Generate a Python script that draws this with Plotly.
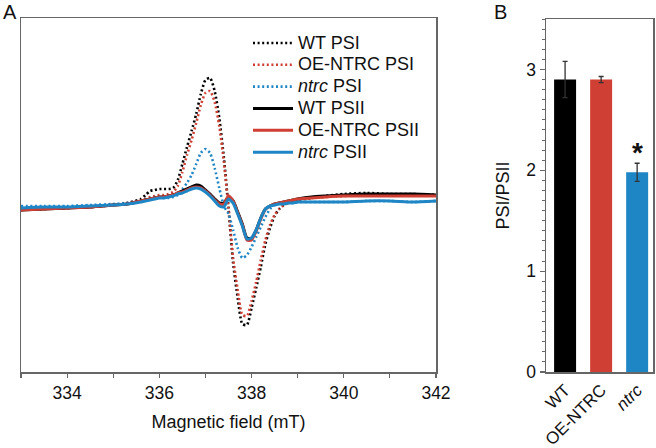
import plotly.graph_objects as go

# ---------------- Panel A data (magnetic field, mT; signal, a.u.) ----------------
field = [333.0, 333.5, 334.0, 334.5, 335.0, 335.3,
         335.6, 335.7, 335.8, 335.9, 336.0, 336.1, 336.2, 336.3, 336.4, 336.5,
         336.6, 336.7, 336.8, 336.9, 337.0, 337.1, 337.2, 337.3, 337.4, 337.5,
         337.6, 337.7, 337.8, 337.9, 338.0, 338.1, 338.2, 338.3, 338.4, 338.5,
         338.6, 338.7, 338.8, 338.9, 339.0, 339.3, 339.6, 340.0, 340.5, 341.0,
         341.5, 342.0]

wt_psi = [-2, -1, 0, 1, 3, 5,
          9, 13, 17, 18, 19, 19, 19, 20, 28, 44,
          61, 77, 94, 114, 128, 130, 117, 90, 50, 0,
          -55, -90, -116, -117, -100, -80, -59, -36, -20, -8,
          -1, 3, 5, 6, 8, 10, 12, 14, 15, 14,
          14, 13]

oe_psi = [-1, 0, 0, 2, 3, 5,
          7, 9, 11, 12, 13, 13, 14, 16, 22, 36,
          53, 68, 85, 103, 115, 117, 106, 82, 46, 0,
          -50, -82, -107, -108, -93, -74, -52, -32, -17, -7,
          -1, 3, 5, 6, 8, 10, 11, 12, 13, 13,
          13, 13]

ntrc_psi = [2, 2, 2, 3, 4, 5,
            7, 9, 10, 11, 11, 10, 10, 11, 13, 19,
            25, 33, 44, 55, 59, 55, 40, 20, 2, -6,
            -22, -40, -50, -47, -39, -29, -19, -9, -1, 3,
            5, 5, 5, 5, 6, 6, 6, 6, 7, 7,
            6, 7]

wt_psii = [-2, -1, 0, 1, 3, 4,
           7, 8, 9, 10, 11, 11, 12, 13, 15, 17,
           19, 21, 23, 22, 18, 14, 9, 5, 5, 11,
           7, -4, -16, -30, -30, -22, -10, -1, 2, 4,
           5, 6, 7, 8, 9, 11, 12, 13, 14, 14,
           14, 13]

oe_psii = [-2, -1, 0, 1, 3, 4,
           7, 8, 9, 10, 11, 11, 12, 13, 15, 16,
           18, 20, 21, 20, 17, 13, 8, 4, 4, 12,
           7, -5, -17, -32, -32, -23, -11, -1, 2, 4,
           5, 6, 7, 8, 9, 10, 11, 12, 12, 12,
           12, 12]

ntrc_psii = [0, 1, 1, 2, 3, 4,
             6, 7, 8, 9, 10, 10, 11, 12, 14, 15,
             17, 19, 20, 19, 16, 12, 7, 2, 1, 9,
             5, -6, -18, -31, -30, -22, -10, -1, 2, 3,
             4, 4, 5, 5, 6, 6, 6, 6, 7, 7,
             6, 7]

# ---------------- Panel B data ----------------
genotypes = ["WT", "OE-NTRC", "ntrc"]
genotype_labels = ["WT", "OE-NTRC", "<i>ntrc</i>"]
ratio = [2.90, 2.90, 1.98]
ratio_err = [0.18, 0.03, 0.09]

BLACK = "#000000"
RED = "#cf3f33"
BLUE = "#1f86c6"
AXIS = "#666666"
FONT = "Liberation Sans, Arial, Helvetica, sans-serif"


def big(s):
    return '<span style="font-size:18px">' + s + '</span>'


fig = go.Figure()

series = [
    ("WT PSI", wt_psi, BLACK, "dot"),
    ("OE-NTRC PSI", oe_psi, RED, "dot"),
    ("<i>ntrc</i> PSI", ntrc_psi, BLUE, "dot"),
    ("WT PSII", wt_psii, BLACK, "solid"),
    ("OE-NTRC PSII", oe_psii, RED, "solid"),
    ("<i>ntrc</i> PSII", ntrc_psii, BLUE, "solid"),
]
for name, ys, col, dash in series:
    fig.add_trace(go.Scatter(
        x=field, y=ys, mode="lines", name=big(name),
        line=dict(color=col, width=2.6 if dash == "dot" else 3,
                  dash="2px,2.6px" if dash == "dot" else "solid",
                  shape="spline", smoothing=0.6),
        xaxis="x", yaxis="y", showlegend=True,
    ))

fig.add_trace(go.Bar(
    x=genotypes, y=ratio,
    marker=dict(color=[BLACK, RED, BLUE], line=dict(width=0)),
    width=0.61,
    error_y=dict(type="data", array=ratio_err, color="#333333",
                 thickness=1.3, width=2.5),
    xaxis="x2", yaxis="y2", showlegend=False,
))

fig.update_layout(
    template="none",
    width=656, height=448,
    margin=dict(l=0, r=0, t=0, b=0, pad=0),
    paper_bgcolor="white", plot_bgcolor="white",
    font=dict(family=FONT, size=17, color="#111111"),
    showlegend=True,
    legend=dict(
        x=248 / 656, y=1 - 27 / 448, xanchor="left", yanchor="top",
        bgcolor="rgba(0,0,0,0)", borderwidth=0,
        font=dict(family=FONT, size=14.5, color="#111111"),
        itemwidth=40, tracegroupgap=0,
    ),
    xaxis=dict(
        domain=[21 / 656, 436 / 656], anchor="y", automargin=False,
        range=[333, 342],
        tickvals=[333, 334, 335, 336, 337, 338, 339, 340, 341, 342],
        ticktext=["", "334", "", "336", "", "338", "", "340", "", "342"],
        ticks="outside", ticklen=4, tickwidth=1.2, tickcolor=AXIS,
        showline=True, linecolor=AXIS, linewidth=1.5, mirror=True,
        showgrid=False, zeroline=False,
        tickfont=dict(size=17.5),
        title=dict(text="Magnetic field (mT)", font=dict(size=18), standoff=14),
    ),
    yaxis=dict(
        domain=[76 / 448, 430 / 448], anchor="x", automargin=False,
        range=[-164, 190],
        showticklabels=False, ticks="",
        showline=True, linecolor=AXIS, linewidth=1.5, mirror=True,
        showgrid=False, zeroline=False,
    ),
    xaxis2=dict(
        domain=[546 / 656, 653 / 656], anchor="y2", automargin=False,
        range=[-0.53, 2.44],
        tickvals=genotypes, ticktext=genotype_labels,
        tickangle=-45, ticks="",
        showline=True, linecolor=AXIS, linewidth=1.5, mirror=True,
        showgrid=False, zeroline=False,
        tickfont=dict(size=17),
    ),
    yaxis2=dict(
        domain=[76 / 448, 429 / 448], anchor="x2", automargin=False,
        range=[0, 3.5],
        tickvals=[0, 1, 2, 3],
        ticks="outside", ticklen=5, tickwidth=1.2, tickcolor=AXIS,
        minor=dict(dtick=0.1, ticks="outside", ticklen=2.5, tickwidth=1, tickcolor=AXIS),
        showline=True, linecolor=AXIS, linewidth=1.5, mirror=True,
        showgrid=False, zeroline=False,
        tickfont=dict(size=17.5),
        title=dict(text="PSI/PSII", font=dict(size=18), standoff=12),
    ),
    annotations=[
        dict(text="A", x=1 / 656, y=1, xref="paper", yref="paper",
             xanchor="left", yanchor="top", showarrow=False, yshift=1,
             font=dict(size=20)),
        dict(text="B", x=492 / 656, y=1, xref="paper", yref="paper",
             xanchor="left", yanchor="top", showarrow=False, yshift=1,
             font=dict(size=20)),
        dict(text="<b>*</b>", x=genotypes[2], y=ratio[2] + ratio_err[2],
             xref="x2", yref="y2", xanchor="center", yanchor="bottom",
             showarrow=False, yshift=-7, font=dict(size=28, color="#111111")),
    ],
)

fig.write_html(
    "out.html",
    config={"displayModeBar": False, "staticPlot": True},
    post_script="document.body.style.margin='0px';document.body.style.overflow='hidden';",
)
